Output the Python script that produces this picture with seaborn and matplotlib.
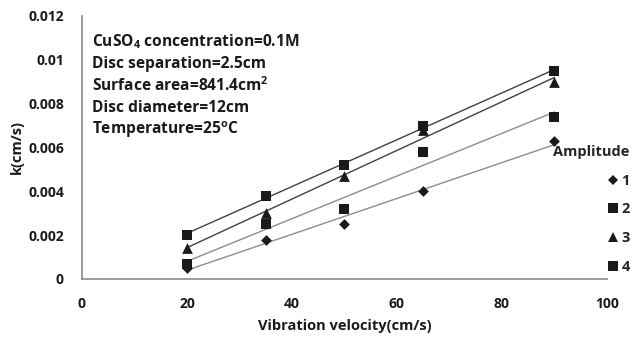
import numpy as np
import pandas as pd
import matplotlib
matplotlib.use("Agg")
import matplotlib.pyplot as plt
from matplotlib.lines import Line2D
import seaborn as sns

# Vibration velocity (cm/s)
velocity = [20, 35, 50, 65, 90]
# Mass transfer coefficient k (cm/s) per amplitude
k_amp1 = [0.0005, 0.0018, 0.0025, 0.0040, 0.0063]
k_amp2 = [0.0007, 0.0025, 0.0032, 0.0058, 0.0074]
k_amp3 = [0.0014, 0.0030, 0.0047, 0.0068, 0.0090]
k_amp4 = [0.0020, 0.0038, 0.0052, 0.0070, 0.0095]
amplitudes = ["1", "2", "3", "4"]
x_ticks = [0, 20, 40, 60, 80, 100]
y_ticks = [0, 0.002, 0.004, 0.006, 0.008, 0.01, 0.012]
y_tick_labels = ["0", "0.002", "0.004", "0.006", "0.008", "0.01", "0.012"]

sns.set_style("white")
FONT = "Open Sans"
plt.rcParams["font.family"] = [FONT, "DejaVu Sans"]
plt.rcParams["font.weight"] = "bold"
plt.rcParams["mathtext.fontset"] = "custom"
plt.rcParams["mathtext.bf"] = f"{FONT}:bold"
plt.rcParams["mathtext.rm"] = f"{FONT}:bold"

df = pd.DataFrame({
    "v": velocity * 4,
    "k": k_amp1 + k_amp2 + k_amp3 + k_amp4,
    "amp": sum([[a] * len(velocity) for a in amplitudes], []),
})

markers = {"1": "D", "2": "s", "3": "^", "4": "s"}
msizes = {"1": 30, "2": 60, "3": 60, "4": 60}
line_colors = {"1": "#8c8c8c", "2": "#8c8c8c", "3": "#404040", "4": "#404040"}
ink = "#1a1a1a"

fig = plt.figure(figsize=(6.38, 3.38), dpi=100)
ax = fig.add_axes([0.1285, 0.1746, 0.8229, 0.7781])

# Linear trend line for each amplitude, over the measured velocity range
for a in amplitudes:
    sub = df[df["amp"] == a]
    sns.regplot(data=sub, x="v", y="k", ax=ax, scatter=False, ci=None,
                truncate=True, line_kws={"color": line_colors[a], "lw": 1.0})
for a in amplitudes:
    sub = df[df["amp"] == a]
    sns.scatterplot(data=sub, x="v", y="k", ax=ax, marker=markers[a],
                    s=msizes[a], color=ink, edgecolor=ink, linewidth=0,
                    zorder=5, legend=False)

ax.set_xlim(0, 100)
ax.set_ylim(0, 0.012)
ax.set_xticks(x_ticks)
ax.set_yticks(y_ticks)
ax.set_yticklabels(y_tick_labels)
ax.set_xticklabels([str(t) for t in x_ticks])

spine_c = "#8a8a8a"
for s in ["top", "right"]:
    ax.spines[s].set_visible(False)
for s in ["left", "bottom"]:
    ax.spines[s].set_color(spine_c)
    ax.spines[s].set_linewidth(1.2)
ax.tick_params(axis="both", direction="out", length=5, width=1.0,
               color=spine_c, labelsize=10, labelcolor=ink)
ax.tick_params(axis="x", pad=8)
ax.tick_params(axis="y", pad=8)
for lbl in ax.get_xticklabels() + ax.get_yticklabels():
    lbl.set_fontweight("bold")

ax.set_xlabel("Vibration velocity(cm/s)", fontsize=10.5, fontweight="bold",
              color=ink, labelpad=6)
ax.set_ylabel("k(cm/s)", fontsize=10.5, fontweight="bold", color=ink,
              labelpad=3)

info = [
    r"CuSO$_\mathbf{4}$ concentration=0.1M",
    "Disc separation=2.5cm",
    r"Surface area=841.4cm$^\mathbf{2}$",
    "Disc diameter=12cm",
    r"Temperature=25$^\mathbf{o}$C",
]
for i, line in enumerate(info):
    fig.text(92 / 638, 1 - (42 + 22 * i) / 338, line, fontsize=11.2,
             fontweight="bold", color=ink, va="center", ha="left")

handles = [Line2D([0], [0], marker=markers[a], color=ink, linestyle="none",
                  markersize=5.5 if a == "1" else 7.5, markeredgewidth=0)
           for a in amplitudes]
leg = fig.legend(handles, amplitudes, title="Amplitude", loc="upper right",
                 bbox_to_anchor=(637 / 638, 1 - 138 / 338), frameon=False,
                 prop={"size": 10.5, "weight": "bold"}, handlelength=0.6,
                 handletextpad=0.3, labelspacing=1.0, borderpad=0.0)
leg.get_title().set_fontweight("bold")
leg.get_title().set_fontsize(10.5)
leg._legend_box.align = "right"

fig.savefig("out.png", dpi=100)
